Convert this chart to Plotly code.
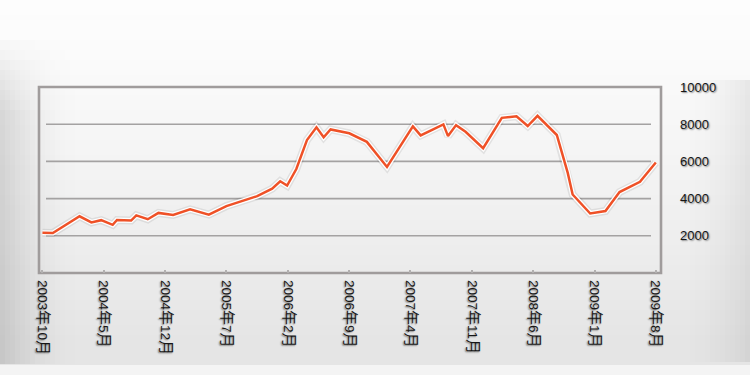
import plotly.graph_objects as go

# ---- data ----
dates = [
    "2003-10-01", "2003-11-06", "2004-02-07", "2004-03-19", "2004-04-22",
    "2004-06-01", "2004-06-16", "2004-08-04", "2004-08-22", "2004-10-01",
    "2004-11-07", "2004-12-28", "2005-02-25", "2005-05-01", "2005-07-01",
    "2005-10-16", "2005-12-07", "2006-01-04", "2006-01-28", "2006-03-01",
    "2006-04-07", "2006-05-10", "2006-06-04", "2006-06-28", "2006-09-01",
    "2006-11-01", "2007-01-10", "2007-04-10", "2007-05-07", "2007-07-25",
    "2007-08-10", "2007-09-07", "2007-10-10", "2007-12-10", "2008-02-13",
    "2008-04-04", "2008-05-13", "2008-06-16", "2008-08-22", "2008-09-29",
    "2008-10-16", "2008-12-16", "2009-02-07", "2009-03-28", "2009-06-07",
    "2009-08-01",
]
values = [
    2160, 2150, 3050, 2720, 2840,
    2590, 2850, 2820, 3100, 2890,
    3230, 3120, 3420, 3140, 3600,
    4130, 4530, 4930, 4700, 5590,
    7150, 7830, 7300, 7720, 7510,
    7050, 5700, 7880, 7400, 7990,
    7360, 7950, 7590, 6710, 8340,
    8430, 7900, 8450, 7420, 5380,
    4220, 3200, 3330, 4350, 4900,
    5940,
]
tick_dates = [
    "2003-10-01", "2004-05-01", "2004-12-01", "2005-07-01", "2006-02-01",
    "2006-09-01", "2007-04-01", "2007-11-01", "2008-06-01", "2009-01-01",
    "2009-08-01",
]
tick_labels = [
    "2003年10月", "2004年5月", "2004年12月", "2005年7月", "2006年2月",
    "2006年9月", "2007年4月", "2007年11月", "2008年6月", "2009年1月",
    "2009年8月",
]
y_ticks = [2000, 4000, 6000, 8000, 10000]
y_labels = ["2000", "4000", "6000", "8000", "10000"]
grid_values = [2000, 4000, 6000, 8000]

# ---- layout geometry (pixels) ----
W, H = 750, 375
L, R, T, B = 39, 89, 87, 102
PW, PH = W - L - R, H - T - B


def px(x):
    return (x - L) / PW


def py(y):
    return (H - B - y) / PH


def styled(label):
    # CJK characters appear a bit larger than the digits in the original
    out = []
    for ch in label:
        if ord(ch) > 127:
            out.append(f'<span style="font-size:15px">{ch}</span>')
        else:
            out.append(ch)
    return "".join(out)


shapes = []

# vertical background gradient (smooth)
n = 75
for i in range(n):
    y0 = i * H / n
    y1 = (i + 1) * H / n
    mid = (y0 + y1) / 2
    if mid < 340:
        t = mid / 340
        lvl = 253 - 24 * t ** 1.3
    elif mid < 364:
        lvl = 229
    else:
        lvl = 244
    lvl = int(round(lvl))
    shapes.append(dict(type="rect", xref="paper", yref="paper", layer="below",
                       x0=px(0), x1=px(W), y0=py(y1), y1=py(y0),
                       line=dict(width=0),
                       fillcolor=f"rgb({lvl},{lvl},{lvl})"))

# left vignette (fades in from top)
for i in range(16):
    x0 = i * 5
    a = 0.13 * (1 - i / 16) ** 2
    for j in range(8):
        yy0 = 40 + j * 10
        aj = a * (j + 1) / 8
        shapes.append(dict(type="rect", xref="paper", yref="paper", layer="below",
                           x0=px(x0), x1=px(x0 + 5), y0=py(yy0 + 10), y1=py(yy0),
                           line=dict(width=0), fillcolor=f"rgba(0,0,0,{aj:.3f})"))
    shapes.append(dict(type="rect", xref="paper", yref="paper", layer="below",
                       x0=px(x0), x1=px(x0 + 5), y0=py(364), y1=py(120),
                       line=dict(width=0), fillcolor=f"rgba(0,0,0,{a:.3f})"))
# right vignette
for i in range(14):
    x0 = 680 + i * 5
    a = 0.07 * ((i + 1) / 14) ** 2
    shapes.append(dict(type="rect", xref="paper", yref="paper", layer="below",
                       x0=px(x0), x1=px(x0 + 5), y0=py(362), y1=py(80),
                       line=dict(width=0), fillcolor=f"rgba(0,0,0,{a:.3f})"))

# grid lines (not full width)
for g in grid_values:
    shapes.append(dict(type="line", xref="paper", yref="y", layer="below",
                       x0=px(46), x1=px(651), y0=g, y1=g,
                       line=dict(color="#a4a2a2", width=1.6)))

# frame
shapes.append(dict(type="rect", xref="paper", yref="paper", layer="below",
                   x0=0, x1=1, y0=0, y1=1,
                   line=dict(color="#a09c9c", width=2.6)))

fig = go.Figure()
fig.add_trace(go.Scatter(x=dates, y=values, mode="lines",
                         line=dict(color="rgba(0,0,0,0.08)", width=8),
                         hoverinfo="skip", showlegend=False))
fig.add_trace(go.Scatter(x=dates, y=values, mode="lines",
                         line=dict(color="white", width=5),
                         hoverinfo="skip", showlegend=False))
fig.add_trace(go.Scatter(x=dates, y=values, mode="lines",
                         line=dict(color="#ef5127", width=2.5),
                         showlegend=False))

shadow = "1px 1px 1.5px rgba(0,0,0,0.45)"
fnt = "Liberation Sans, Arial, Noto Sans CJK SC"
fig.update_layout(
    width=W, height=H,
    margin=dict(l=L, r=R, t=T, b=B, pad=0),
    paper_bgcolor="white",
    plot_bgcolor="rgba(0,0,0,0)",
    shapes=shapes,
    showlegend=False,
    font=dict(family=fnt, color="#161616"),
    xaxis=dict(
        type="date",
        range=["2003-09-19", "2009-08-19"],
        tickmode="array", tickvals=tick_dates,
        ticktext=[styled(s) for s in tick_labels],
        tickangle=90,
        tickfont=dict(size=13.5, color="#161616", shadow=shadow, family=fnt),
        ticks="inside", ticklen=3, tickwidth=2, tickcolor="#b2b0b0",
        showgrid=False, showline=False, zeroline=False,
        ticklabelstandoff=6,
    ),
    yaxis=dict(
        range=[0, 10000],
        side="right",
        tickmode="array", tickvals=y_ticks, ticktext=y_labels,
        tickfont=dict(size=13, color="#161616", shadow=shadow, family=fnt),
        ticks="", showgrid=False, showline=False, zeroline=False,
        ticklabelstandoff=18,
    ),
)

fig.write_html("out.html",
               config={"displayModeBar": False},
               post_script="document.body.style.margin='0';"
                           "document.body.style.padding='0';")
